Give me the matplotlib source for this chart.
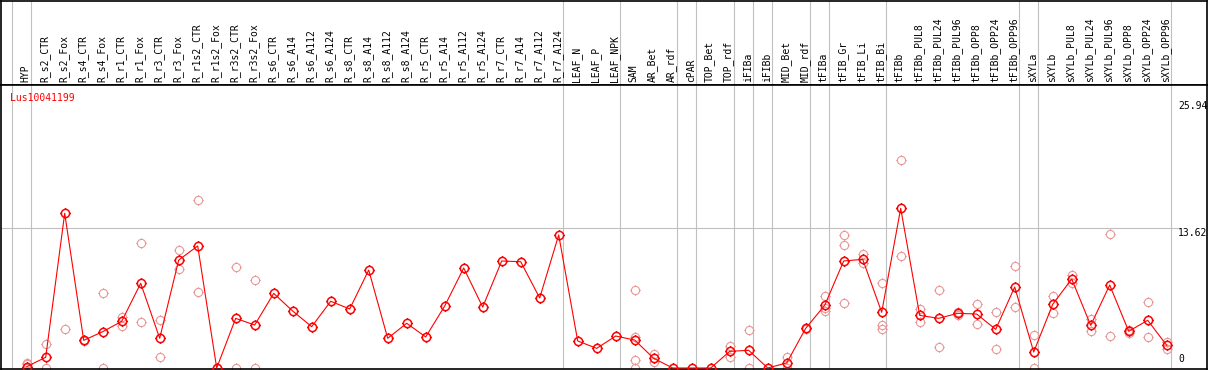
import matplotlib
matplotlib.use('Agg')
import matplotlib.pyplot as plt
from matplotlib.path import Path
import numpy as np

# sample labels (one column per sample)
labels = ['HYP', 'R_s2_CTR', 'R_s2_Fox', 'R_s4_CTR', 'R_s4_Fox', 'R_r1_CTR', 'R_r1_Fox',
          'R_r3_CTR', 'R_r3_Fox', 'R_r1s2_CTR', 'R_r1s2_Fox', 'R_r3s2_CTR', 'R_r3s2_Fox',
          'R_s6_CTR', 'R_s6_A14', 'R_s6_A112', 'R_s6_A124', 'R_s8_CTR', 'R_s8_A14',
          'R_s8_A112', 'R_s8_A124', 'R_r5_CTR', 'R_r5_A14', 'R_r5_A112', 'R_r5_A124',
          'R_r7_CTR', 'R_r7_A14', 'R_r7_A112', 'R_r7_A124', 'LEAF_N', 'LEAF_P', 'LEAF_NPK',
          'SAM', 'AR_Bet', 'AR_rdf', 'cPAR', 'TOP_Bet', 'TOP_rdf', 'iFIBa', 'iFIBb',
          'MID_Bet', 'MID_rdf', 'tFIBa', 'tFIB_Gr', 'tFIB_Li', 'tFIB_Bi', 'tFIBb',
          'tFIBb_PUL8', 'tFIBb_PUL24', 'tFIBb_PUL96', 'tFIBb_OPP8', 'tFIBb_OPP24',
          'tFIBb_OPP96', 'sXYLa', 'sXYLb', 'sXYLb_PUL8', 'sXYLb_PUL24', 'sXYLb_PUL96',
          'sXYLb_OPP8', 'sXYLb_OPP24', 'sXYLb_OPP96']

# mean expression per sample
means = [0.13, 1.04, 15.05, 2.69, 3.53, 4.54, 8.24, 2.89, 10.5, 11.87, 0.0, 4.83, 4.18,
         7.26, 5.54, 4.02, 6.49, 5.74, 9.53, 2.89, 4.35, 3.02, 6.03, 9.73, 5.93,
         10.41, 10.34, 6.81, 12.94, 2.63, 1.91, 3.11,
         2.72, 0.94, 0.0, 0.0, 0.0, 1.62, 1.72, 0.0,
         0.49, 3.86, 6.1, 10.41, 10.57, 5.42, 15.53,
         5.12, 4.83, 5.32, 5.25, 3.76, 7.88,
         1.56, 6.19, 8.66, 4.15, 8.07, 3.57, 4.64, 2.21]

# replicate values per sample
reps = [[0.5, 0.35, 0.0], [2.33, 0.0], [3.76], [2.75, 2.6], [7.26, 0.0], [4.93, 4.12],
        [12.13, 4.44], [4.67, 1.04], [11.48, 9.6], [16.34, 7.36], [0.0], [9.79, 0.0],
        [8.56, 0.0],
        [], [], [], [], [], [], [], [], [], [], [], [], [], [], [], [], [], [], [],
        [7.59, 2.99, 0.75, 0.0], [1.36, 0.55], [], [], [], [2.17, 1.1], [3.67, 0.0], [],
        [1.1, 0.0], [3.9, 3.82], [7.0, 5.8, 5.54], [12.94, 11.96, 6.29], [11.09, 10.24],
        [8.24, 4.18, 3.79], [20.23, 10.9],
        [5.74, 4.44], [7.56, 2.01], [5.45, 5.2], [6.23, 4.25], [5.48, 1.88], [9.92, 5.9],
        [3.18, 0.0], [6.97, 5.35], [9.05, 8.24], [4.77, 3.63], [13.0, 3.08], [3.7, 3.45],
        [6.39, 2.99], [2.53, 1.88]]

# group separators: a line after these column indices
separators = [-1, 0, 28, 31, 34, 35, 37, 38, 39, 41, 42, 45, 52, 53, 60]
ytick_vals = [25.94, 13.62, 0]
gene = 'Lus10041199'

# circle marker with 4 small ticks
circ = Path.unit_circle()
verts = list(circ.vertices)
codes = list(circ.codes)
for dx, dy in [(1, 0), (-1, 0), (0, 1), (0, -1)]:
    verts += [(dx, dy), (1.25 * dx, 1.25 * dy)]
    codes += [Path.MOVETO, Path.LINETO]
tick_circle = Path(verts, codes)

W, H = 1209, 370
fig = plt.figure(figsize=(W / 100, H / 100), dpi=100)
x = np.arange(len(labels))
xlim = ((1 - 26.7) / 19, (1207 - 26.7) / 19)

top_px = 85
ax_top = fig.add_axes([1 / W, (H - top_px) / H, 1206 / W, (top_px - 1) / H])
ax = fig.add_axes([1 / W, 1 / H, 1206 / W, (H - top_px - 1) / H])

for a in (ax_top, ax):
    a.set_xlim(*xlim)
    a.set_xticks([])
    a.set_yticks([])
    for s in a.spines.values():
        s.set_color('black')
        s.set_linewidth(1.2)
    for sp in separators:
        a.axvline(sp + 0.2, color='#c0c0c0', lw=0.8, zorder=0)

ax_top.set_ylim(0, 1)
for xi, lab in zip(x, labels):
    ax_top.text(xi - 0.05, 0.03, lab, rotation=90, ha='center', va='bottom',
                family='DejaVu Sans Mono', fontsize=7)

ax.set_ylim(-1 / 10.28, (368 - top_px) / 10.28)
ax.axhline(13.62, xmax=(1178 - 1) / 1206, color='#c0c0c0', lw=0.8, zorder=0)

rx = np.repeat(x, [len(r) for r in reps])
ry = np.concatenate([r for r in reps if len(r)])
ax.plot(rx, ry, ls='none', marker=tick_circle, ms=7.4, mfc='none', mec='#e89898',
        mew=0.8, zorder=2)
ax.plot(x, means, color='red', lw=0.8, zorder=3)
ax.plot(x, means, ls='none', marker=tick_circle, ms=7.4, mfc='none', mec='red',
        mew=1.1, zorder=4)

ax.text(9 / 19 + xlim[0], 25.9 + 0.4, gene, color='red', family='DejaVu Sans Mono',
        fontsize=7, ha='left', va='center')

xr = xlim[0] + (1178 - 1) / 19
for v in ytick_vals:
    va = 'bottom' if v == 0 else 'top'
    yy = 0.35 if v == 0 else v
    ax.text(xr, yy, str(v), family='DejaVu Sans Mono', fontsize=7, ha='left', va=va)

fig.savefig('out.png', dpi=100)
